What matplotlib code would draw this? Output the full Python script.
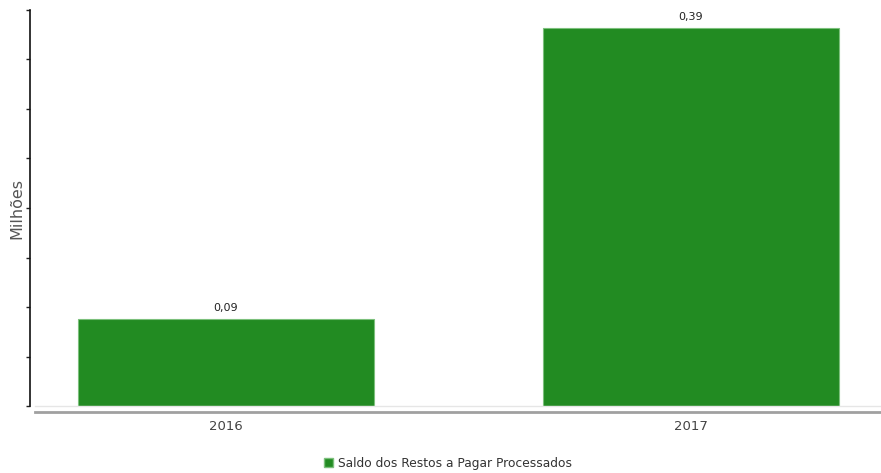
import numpy as np
import matplotlib
matplotlib.use("Agg")
import matplotlib.pyplot as plt
from matplotlib.lines import Line2D
from matplotlib.patches import Patch

# Valeurs du graphique (en millions)
anos = ["2016", "2017"]
saldo = [0.09, 0.39]
rotulos = ["0,09", "0,39"]
serie = "Saldo dos Restos a Pagar Processados"

W, H = 881, 473
fig = plt.figure(figsize=(W / 100, H / 100), dpi=100)
ax = fig.add_axes([30 / W, (H - 406) / H, (W - 30) / W, 396 / H])

x = np.arange(len(anos))
barras = ax.bar(x, saldo, width=0.637, color="#228b22", edgecolor="#7cc07c", linewidth=0.8)

for b, txt in zip(barras, rotulos):
    ax.annotate(txt, (b.get_x() + b.get_width() / 2, b.get_height()),
                xytext=(0, 4), textcoords="offset points", ha="center", va="bottom",
                fontsize=8, color="#222222")

ymax = 0.39 * 396 / 378
ax.set_ylim(0, ymax)
ax.set_xlim(-0.4215, 1.4086)
ax.set_yticks(np.linspace(0, ymax, 9))
ax.set_yticklabels([])
ax.tick_params(axis="y", direction="out", length=3, width=1, color="#222222")
ax.set_xticks(x)
ax.set_xticklabels(anos, fontsize=9.5, color="#444444")
ax.tick_params(axis="x", length=0, pad=10)

ax.set_ylabel("Milhões", fontsize=11.5, color="#555555")
ax.yaxis.set_label_coords(-6 / 851, 0.5)

for s in ["top", "right"]:
    ax.spines[s].set_visible(False)
ax.spines["left"].set_color("#111111")
ax.spines["left"].set_linewidth(1.2)
ax.spines["bottom"].set_color("#e6e6e6")
ax.spines["bottom"].set_linewidth(1)
ax.spines["bottom"].set_bounds(-0.4215 + 5 / 465, 1.4086)

# ligne grise sous l'axe des x
fig.add_artist(Line2D([35 / W, 1.0], [(H - 411.5) / H] * 2, color="#a0a0a0", linewidth=2))

fig.legend(handles=[Patch(facecolor="#228b22", edgecolor="#7cc07c", label=serie)],
           loc="center", bbox_to_anchor=(448 / W, (H - 463) / H), frameon=False,
           fontsize=8.8, handlelength=0.7, handleheight=0.7, handletextpad=0.4,
           labelcolor="#333333")

fig.savefig("out.png", dpi=100)
